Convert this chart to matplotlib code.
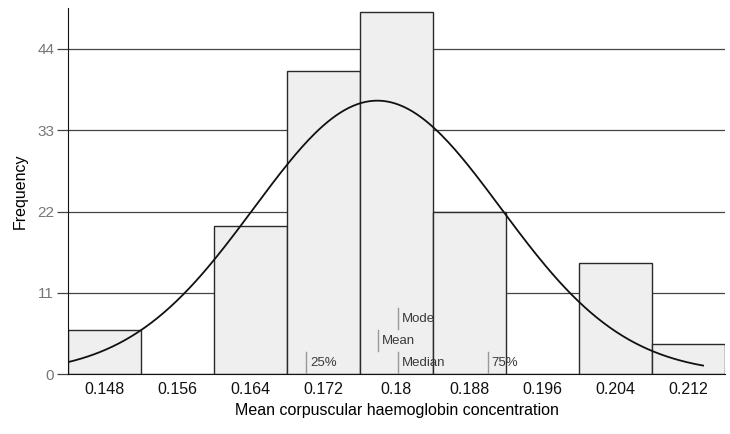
import numpy as np
import matplotlib
matplotlib.use("Agg")
import matplotlib.pyplot as plt

# Data
bin_centers = [0.148, 0.156, 0.164, 0.172, 0.180, 0.188, 0.196, 0.204, 0.212]
counts = [6, 0, 20, 41, 49, 22, 0, 15, 4]
tick_labels = ["0.148", "0.156", "0.164", "0.172", "0.18", "0.188", "0.196", "0.204", "0.212"]
y_ticks = [0, 11, 22, 33, 44]
bin_width = 0.008

curve_mean = 0.1779
curve_sd = 0.01354

marker_names = ["25%", "Mean", "Mode", "Median", "75%"]
marker_values = [0.1701, 0.1780, 0.1802, 0.1802, 0.1900]
marker_levels = [0, 1, 2, 0, 0]  # stacking level above baseline

plt.rcParams['font.family'] = ['Liberation Sans', 'DejaVu Sans']

fig = plt.figure(figsize=(7.30, 4.34), dpi=100)
ax = fig.add_axes([0.0932, 0.1382, 0.8999, 0.8434])

ax.set_xlim(0.144, 0.216)
ax.set_ylim(0, 49.55)

for y in y_ticks[1:]:
    ax.axhline(y, color='#444444', linewidth=0.9, zorder=0.5)

ax.bar(bin_centers, counts, width=bin_width, color='#efefef',
       edgecolor='#2a2a2a', linewidth=1.0, zorder=2)

n_total = sum(counts)
xs = np.linspace(0.144, 0.2136, 300)
ys = n_total * bin_width / (curve_sd * np.sqrt(2 * np.pi)) * np.exp(-0.5 * ((xs - curve_mean) / curve_sd) ** 2)
ax.plot(xs, ys, color='#111111', linewidth=1.3, zorder=3)

# Statistic markers
unit_h = 3.0
for name, val, lvl in zip(marker_names, marker_values, marker_levels):
    y0 = 0.05 + lvl * unit_h
    ax.plot([val, val], [y0, y0 + unit_h - 0.1], color='#999999', linewidth=1.0, zorder=4)
    ax.text(val + 0.0004, y0 + (unit_h - 0.1) / 2, name, fontsize=9.5, color='#3a3a3a',
            va='center', ha='left', zorder=5)

ax.set_xticks(bin_centers)
ax.set_xticklabels(tick_labels, fontsize=11.5, color='#111111')
ax.set_yticks(y_ticks)
ax.set_yticklabels([str(v) for v in y_ticks], fontsize=11, color='#777777')
ax.tick_params(axis='x', length=0, pad=6)
ax.tick_params(axis='y', length=8, width=0.9, color='#444444', pad=2)

for s in ['top', 'right']:
    ax.spines[s].set_visible(False)
ax.spines['left'].set_color('#111111')
ax.spines['bottom'].set_color('#111111')

ax.set_xlabel("Mean corpuscular haemoglobin concentration", fontsize=11.5, labelpad=4)
ax.set_ylabel("Frequency", fontsize=11.5, labelpad=7)

fig.savefig("out.png", dpi=100)
